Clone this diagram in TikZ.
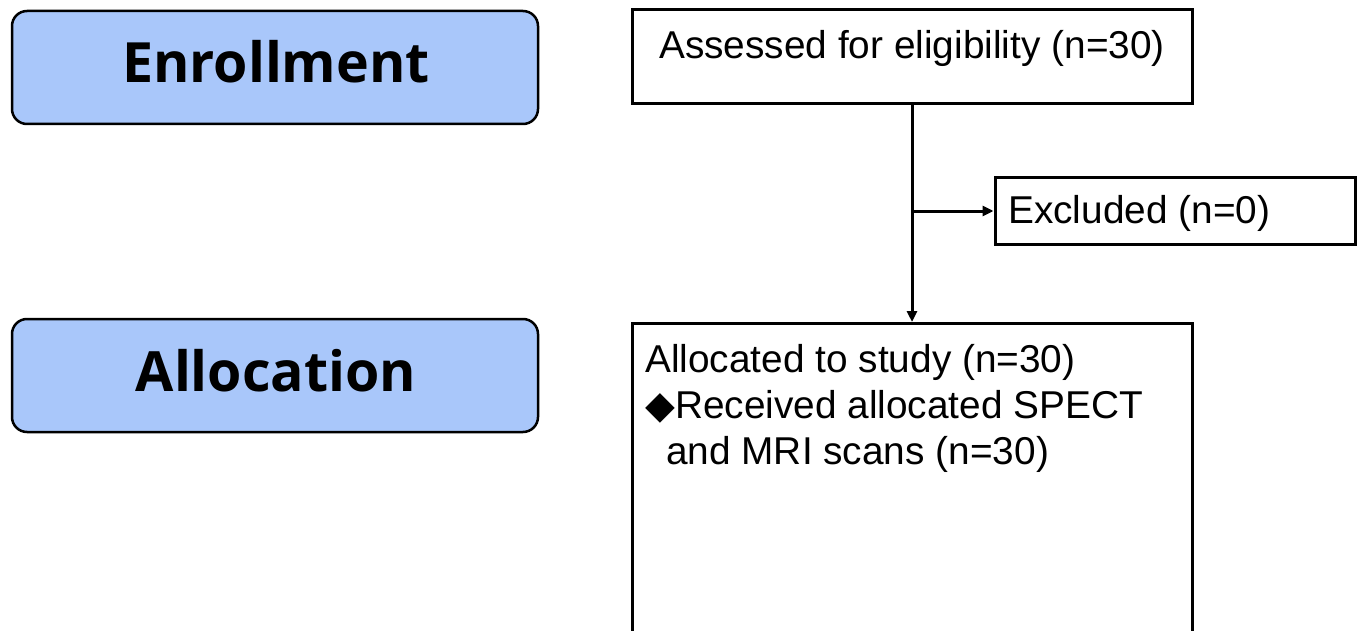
\documentclass[tikz,border=0pt]{standalone}
\usepackage{fontspec}
\setmainfont{Liberation Sans}
\newfontfamily\phasefont{Open Sans}
\newfontfamily\symfont{DejaVu Sans}
\usetikzlibrary{arrows.meta}
\definecolor{phaseblue}{RGB}{169,199,250}
\tikzset{
  phasebox/.style={draw=black, line width=2.5pt, fill=phaseblue, rounded corners=15pt,
    minimum width=526pt, minimum height=113pt, inner sep=0pt},
  phasetext/.style={font=\phasefont\bfseries\fontsize{55.5}{60}\selectfont, inner sep=0pt, anchor=base},
  flowbox/.style={draw=black, line width=3pt, fill=white, inner sep=0pt},
  flowtext/.style={font=\fontsize{38.8}{46}\selectfont, inner sep=0pt},
  conn/.style={draw=black, line width=3pt, -{Triangle[length=11pt,width=10pt]}},
}
\begin{document}
\begin{tikzpicture}[x=1pt,y=-1pt]
\useasboundingbox (0,0) rectangle (1359,631);
\clip (0,0) rectangle (1359,631);
% phase boxes
\node[phasebox] (enr) at (275,67.5) {};
\node[phasetext] (enrt) at (276,83) {Enrollment};
\node[phasebox] (allocp) at (275,375.5) {};
\node[phasetext] (allocpt) at (276,391.5) {Allocation};
% flow boxes
\node[flowbox, minimum width=560pt, minimum height=94pt] (assess) at (912,57) {};
\node[flowtext, anchor=base] (assesst) at (912,59) {Assessed for eligibility (n=30)};
\node[flowbox, minimum width=360pt, minimum height=66pt] (excl) at (1175,211) {};
\node[flowtext, anchor=base west] (exclt) at (1008,223) {Excluded (n=0)};
\node[flowbox, minimum width=560pt, minimum height=400pt, anchor=north] (alloc) at (912,322) {};
\node[flowtext, anchor=base west, align=left] (alloct) at (645,464)
  {Allocated to study (n=30)\\{\symfont ◆}Received allocated SPECT\\\hspace*{21pt}and MRI scans (n=30)};
% connectors
\coordinate (branch) at (912,211);
\draw[conn] (assess.south) -- (alloc.north);
\draw[conn] (branch) -- (excl.west);
\end{tikzpicture}
\end{document}
